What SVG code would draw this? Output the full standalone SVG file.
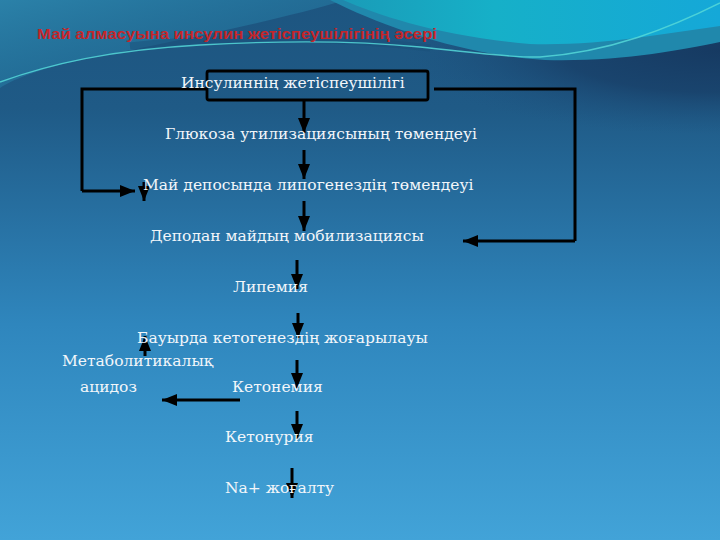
<svg xmlns="http://www.w3.org/2000/svg" width="720" height="540" viewBox="0 0 720 540">
<defs>
<linearGradient id="bg" x1="0" y1="0" x2="0" y2="1">
<stop offset="0" stop-color="#1d5580"/>
<stop offset="0.2" stop-color="#1f5a86"/>
<stop offset="0.6" stop-color="#2f86bd"/>
<stop offset="1" stop-color="#42a3d8"/>
</linearGradient>
<linearGradient id="sw" x1="0" y1="0" x2="1" y2="0">
<stop offset="0" stop-color="#1a9cb8"/>
<stop offset="0.4" stop-color="#16b0c8"/>
<stop offset="1" stop-color="#15a8d8"/>
</linearGradient>
<linearGradient id="lsw" x1="0" y1="0" x2="1" y2="1">
<stop offset="0" stop-color="#2c86ad" stop-opacity="0.9"/>
<stop offset="1" stop-color="#1f6e98" stop-opacity="0.3"/>
</linearGradient>
<radialGradient id="dk" cx="0.5" cy="0.5" r="0.5">
<stop offset="0" stop-color="#163a62"/>
<stop offset="0.5" stop-color="#183f68" stop-opacity="0.8"/>
<stop offset="1" stop-color="#1e5482" stop-opacity="0"/>
</radialGradient>
<marker id="ah" viewBox="0 0 15 12" refX="15" refY="6" markerWidth="5" markerHeight="4" markerUnits="strokeWidth" orient="auto">
<path d="M0 0 L15 6 L0 12 Z" fill="#000"/>
</marker>
<style>
.t{font-family:"DejaVu Serif","Liberation Serif",serif;font-size:15.5px;fill:#f2f6fa}
.ttl{font-family:"Liberation Sans",Arial,sans-serif;font-size:15px;font-weight:bold;fill:#c4262a}
.c{stroke:#000;stroke-width:3;fill:none}
.a{stroke:#000;stroke-width:3;fill:none;marker-end:url(#ah)}
</style>
</defs>
<rect width="720" height="540" fill="url(#bg)"/>
<g id="background">
<path d="M0 0 L345 0 C280 20 180 40 90 58 C45 67 15 78 0 88 Z" fill="url(#lsw)"/>
<ellipse cx="720" cy="50" rx="320" ry="85" fill="url(#dk)"/>
<path d="M330 0 C380 25 460 55 545 60 C620 62 680 50 720 42 L720 0 Z" fill="#2088ac"/>
<path d="M343 0 C380 16 440 36 530 44 C600 46 660 34 720 26 L720 0 Z" fill="url(#sw)"/>
<path d="M130 46 C220 36 330 36 430 48" stroke="#1a4f7a" stroke-width="7" fill="none" opacity="0.5"/>
<path d="M0 82 C50 64 110 50 200 45 C290 40 360 41 420 47 C470 52 510 58 540 57 C610 52 670 28 720 3" stroke="#55d8d8" stroke-width="1.4" fill="none" opacity="0.85"/>
</g>
<text id="title" class="ttl" x="37" y="39" textLength="400" lengthAdjust="spacingAndGlyphs">Май алмасуына инсулин жетіспеушілігінің әсері</text>
<g id="connectors">
<path class="c" d="M207 89 H82 V191"/>
<path class="a" d="M82 191 H135"/>
<path class="c" d="M434 89 H575 V241"/>
<path class="a" d="M575 241 H463"/>
<path class="a" d="M304 100 V133"/>
<path class="a" d="M304 150 V179"/>
<path class="a" d="M144 182 V201"/>
<path class="a" d="M304 201 V231"/>
<path class="a" d="M297 260 V289"/>
<path class="a" d="M298 313 V338"/>
<path class="a" d="M145 356 V336"/>
<path class="a" d="M297 360 V388"/>
<path class="a" d="M240 400 H162"/>
<path class="a" d="M297 411 V439"/>
<path class="a" d="M292 468 V498"/>
</g>
<g id="n1"><rect x="207" y="71" width="221" height="29" rx="2" fill="none" stroke="#000" stroke-width="2.8"/><text class="t" x="181" y="88">Инсулиннің жетіспеушілігі</text></g>
<g id="n2"><text class="t" x="165" y="139">Глюкоза утилизациясының төмендеуі</text></g>
<g id="n3"><text class="t" x="143" y="190">Май депосында липогенездің төмендеуі</text></g>
<g id="n4"><text class="t" x="150" y="241">Деподан майдың мобилизациясы</text></g>
<g id="n5"><text class="t" x="233" y="292">Липемия</text></g>
<g id="n6"><text class="t" x="137" y="343">Бауырда кетогенездің жоғарылауы</text></g>
<g id="n7"><text class="t" x="62" y="366">Метаболитикалық</text><text class="t" x="80" y="392">ацидоз</text></g>
<g id="n8"><text class="t" x="232" y="392">Кетонемия</text></g>
<g id="n9"><text class="t" x="225" y="442">Кетонурия</text></g>
<g id="n10"><text class="t" x="225" y="493">Na+ жоғалту</text></g>
</svg>
